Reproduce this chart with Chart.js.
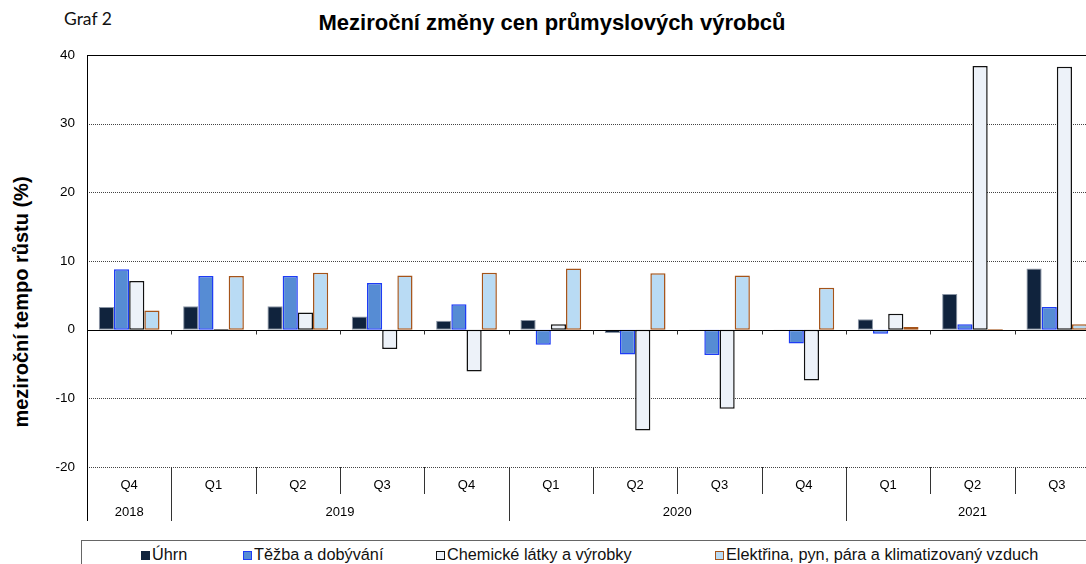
<!DOCTYPE html>
<html lang="cs">
<head>
<meta charset="utf-8">
<title>Meziroční změny cen průmyslových výrobců</title>
<script src="https://cdn.jsdelivr.net/npm/chart.js@4.4.1/dist/chart.umd.min.js"></script>
<style>
  html, body { margin: 0; padding: 0; background: #fff; overflow: hidden; }
  body { width: 1086px; height: 564px; position: relative; font-family: "Liberation Sans", Arial, sans-serif; }
  #graf { position: absolute; left: 64px; top: 8px; font: 17.5px Lato, "Open Sans", sans-serif; color: #111; }
  #title { position: absolute; left: 0; width: 1104px; top: 10px; text-align: center; font-weight: bold; font-size: 22px; color: #000; }
  #ytitle { position: absolute; left: 21px; top: 302px; transform: translate(-50%, -50%) rotate(-90deg); white-space: nowrap; font-weight: bold; font-size: 20px; color: #000; }
  #wrap { position: absolute; left: 0; top: 0; width: 1099px; height: 530px; }
  #legend { position: absolute; left: 81px; top: 540px; width: 1100px; height: 40px; border: 1px solid #666; box-sizing: border-box; }
  #legend span.item { position: absolute; top: 3px; font-size: 16.3px; color: #111; white-space: nowrap; line-height: 20px; }
  #legend i { display: inline-block; width: 9px; height: 9px; margin-right: 2px; vertical-align: 0px; box-sizing: border-box; }
</style>
</head>
<body>
<div id="graf">Graf 2</div>
<div id="title">Meziroční změny cen průmyslových výrobců</div>
<div id="ytitle">meziroční tempo růstu (%)</div>
<div id="wrap"><canvas id="chart" width="1099" height="530"></canvas></div>
<div id="legend"></div>
<script>
"use strict";

// ── data ────────────────────────────────────────────────
const quarters = ["Q4", "Q1", "Q2", "Q3", "Q4", "Q1", "Q2", "Q3", "Q4", "Q1", "Q2", "Q3"];
const years = ["2018", "2019", "2019", "2019", "2019", "2020", "2020", "2020", "2020", "2021", "2021", "2021"];

const uhrn = [3.3, 3.4, 3.4, 1.9, 1.3, 1.4, -0.5, -0.2, -0.1, 1.5, 5.2, 8.9];
const tezba = [8.8, 7.8, 7.8, 6.8, 3.7, -2.2, -3.6, -3.7, -2.0, -0.6, 0.8, 3.3];
const chemie = [7.1, 0.1, 2.5, -2.8, -6.1, 0.8, -14.7, -11.5, -7.4, 2.3, 38.4, 38.3];
const elektrina = [2.8, 7.8, 8.3, 7.9, 8.3, 8.9, 8.2, 7.9, 6.1, 0.4, 0.1, 0.8];

const yTicks = [-20, -10, 0, 10, 20, 30, 40];

const SERIES = [
  { label: "Úhrn", data: uhrn, fill: "#10233d", border: "#8a95a5", width: 1 },
  { label: "Těžba a dobývání", data: tezba, fill: "#568cd4", border: "#1e3cf5", width: 1.5 },
  { label: "Chemické látky a výrobky", data: chemie, fill: "#edf2f9", border: "#111111", width: 1.5 },
  { label: "Elektřina, pyn, pára a klimatizovaný vzduch", data: elektrina, fill: "#b9dbf4", border: "#a5541a", width: 1.5 },
];

const FONT = "'Liberation Sans', Arial, sans-serif";

// ── mřížka, osa nuly, oddělovače kategorií a roky ─────────
const axisDecor = {
  id: "axisDecor",
  beforeDatasetsDraw(chart) {
    const { ctx, chartArea: a, scales: { y } } = chart;
    ctx.save();
    ctx.lineWidth = 1;
    for (const v of yTicks) {
      if (v === 0) continue;
      const py = Math.round(y.getPixelForValue(v)) + 0.5;
      ctx.strokeStyle = v === 40 ? "#000" : "#444";
      ctx.setLineDash(v === 40 ? [] : [1, 1]);
      ctx.beginPath();
      ctx.moveTo(a.left, py);
      ctx.lineTo(a.right, py);
      ctx.stroke();
    }
    ctx.restore();
  },
  afterDatasetsDraw(chart) {
    const { ctx, chartArea: a, scales: { x, y } } = chart;
    ctx.save();
    ctx.strokeStyle = "#000";
    ctx.lineWidth = 1;
    ctx.setLineDash([]);
    // nulová osa
    const y0 = Math.round(y.getPixelForValue(0)) + 0.5;
    ctx.beginPath();
    ctx.moveTo(a.left, y0);
    ctx.lineTo(a.right, y0);
    ctx.stroke();
    const half = (x.getPixelForValue(1) - x.getPixelForValue(0)) / 2;
    // levá osa (až pod popisky let)
    const lx = Math.round(a.left) + 0.5;
    ctx.beginPath();
    ctx.moveTo(lx, a.top);
    ctx.lineTo(lx, a.bottom + 54);
    ctx.stroke();
    ctx.strokeStyle = "#333";
    for (let i = 1; i < quarters.length; i++) {
      const bx = Math.round(x.getPixelForValue(i) - half) + 0.5;
      // značky na nulové ose
      ctx.beginPath();
      ctx.moveTo(bx, y0);
      ctx.lineTo(bx, y0 + 4);
      ctx.stroke();
      // oddělovače pod osou
      const newYear = years[i] !== years[i - 1];
      ctx.beginPath();
      ctx.moveTo(bx, a.bottom);
      ctx.lineTo(bx, a.bottom + (newYear ? 54 : 27));
      ctx.stroke();
    }
    // popisky let vycentrované na skupiny
    ctx.fillStyle = "#000";
    ctx.font = "13px " + FONT;
    ctx.textAlign = "center";
    ctx.textBaseline = "middle";
    let start = 0;
    for (let i = 1; i <= years.length; i++) {
      if (i === years.length || years[i] !== years[start]) {
        const cx = (x.getPixelForValue(start) + x.getPixelForValue(i - 1)) / 2;
        ctx.fillText(years[start], cx, a.bottom + 45);
        start = i;
      }
    }
    ctx.restore();
  },
};

const chart = new Chart(document.getElementById("chart"), {
  type: "bar",
  data: {
    labels: quarters,
    datasets: SERIES.map((s) => ({
      label: s.label,
      data: s.data,
      backgroundColor: s.fill,
      borderColor: s.border,
      borderWidth: s.width,
      borderSkipped: false,
      categoryPercentage: 0.72,
      barPercentage: 1.0,
    })),
  },
  options: {
    responsive: false,
    animation: false,
    layout: { padding: { top: 55, right: 0, bottom: 0, left: 0 } },
    plugins: { legend: { display: false }, title: { display: false }, tooltip: { enabled: false } },
    scales: {
      x: {
        grid: { display: false, drawTicks: false },
        border: { display: false },
        ticks: { color: "#000", font: { size: 13, family: FONT }, padding: 11, autoSkip: false, maxRotation: 0 },
        afterFit: (s) => { s.height = 63; },
      },
      y: {
        min: -20,
        max: 40,
        afterBuildTicks: (s) => { s.ticks = yTicks.map((v) => ({ value: v })); },
        grid: { display: false, drawTicks: false },
        border: { display: false },
        ticks: { color: "#000", font: { size: 13.5, family: FONT }, padding: 12 },
        afterFit: (s) => { s.width = 87; },
      },
    },
  },
  plugins: [axisDecor],
});

// ── legenda ───────────────────────────────────────────
const LEGEND_X = [59, 161, 354, 633];
const legend = document.getElementById("legend");
SERIES.forEach((s, i) => {
  const item = document.createElement("span");
  item.className = "item";
  item.style.left = LEGEND_X[i] + "px";
  const box = document.createElement("i");
  box.style.background = s.fill;
  box.style.border = i === 0 ? "none" : `1px solid ${s.border}`;
  item.append(box, document.createTextNode(s.label));
  legend.appendChild(item);
});
</script>
</body>
</html>
